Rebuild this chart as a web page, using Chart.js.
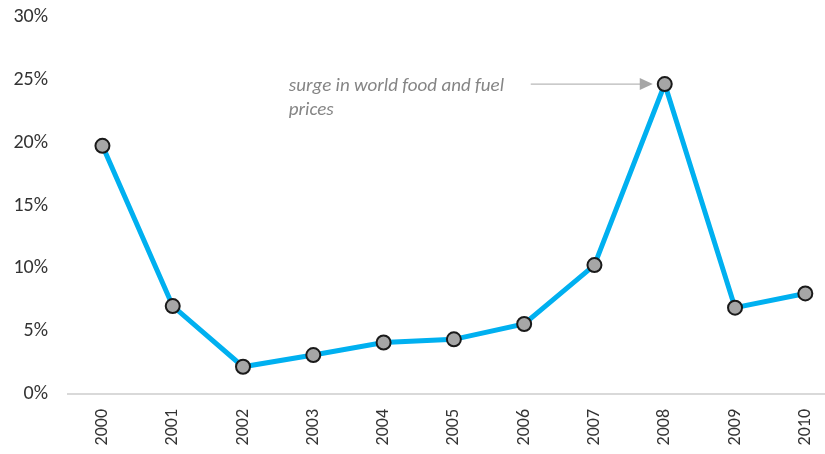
<!DOCTYPE html>
<html>
<head>
<meta charset="utf-8">
<script src="https://cdn.jsdelivr.net/npm/chart.js@4"></script>
<style>
  body { margin: 0; background: #fff; }
  #wrap { width: 825px; height: 454px; position: relative; }
</style>
</head>
<body>
<div id="wrap"><canvas id="myChart"></canvas></div>
<script>
const years = ['2000','2001','2002','2003','2004','2005','2006','2007','2008','2009','2010']
const inflation = [19.75, 7.0, 2.17, 3.1, 4.1, 4.35, 5.57, 10.26, 24.66, 6.87, 8.0]
const yTicks = [0, 5, 10, 15, 20, 25, 30]
const noteLines = ['surge in world food and fuel', 'prices']
const noteIndex = 8

const ctx = document.getElementById('myChart').getContext('2d')
const fontFamily = 'Carlito, Lato, sans-serif'

// arrow + italic note pointing at the 2008 peak
const notePlugin = {
    id: 'note',
    afterDatasetsDraw(chart) {
        const x = chart.scales.x, y = chart.scales.y
        const px = x.getPixelForValue(noteIndex)
        const py = y.getPixelForValue(inflation[noteIndex])
        const c = chart.ctx
        c.save()
        // arrow
        const tipX = px - 12, startX = px - 134
        c.strokeStyle = '#a6a6a6'
        c.fillStyle = '#a6a6a6'
        c.lineWidth = 1
        c.beginPath()
        c.moveTo(startX, py)
        c.lineTo(tipX - 10, py)
        c.stroke()
        c.beginPath()
        c.moveTo(tipX, py)
        c.lineTo(tipX - 13, py - 6)
        c.lineTo(tipX - 13, py + 6)
        c.closePath()
        c.fill()
        // text
        c.fillStyle = '#858585'
        c.font = 'italic 19px ' + fontFamily
        c.textBaseline = 'middle'
        c.textAlign = 'left'
        noteLines.forEach((t, i) => c.fillText(t, px - 376, py + 2 + i * 24))
        c.restore()
    }
}

const data = {
    datasets: [
        {
            data: inflation.map((v, i) => ({ x: i, y: v })),
            borderColor: '#00b0f0',
            borderWidth: 5,
            pointRadius: 7,
            pointHoverRadius: 7,
            pointBackgroundColor: '#a6a6a6',
            pointBorderColor: '#1a1a1a',
            pointBorderWidth: 2,
            tension: 0,
        },
    ],
}

const config = {
    type: 'line',
    data: data,
    plugins: [notePlugin],
    options: {
        responsive: true,
        maintainAspectRatio: false,
        animation: false,
        layout: { padding: { top: 17, right: 0, left: 0, bottom: 0 }, autoPadding: false },
        plugins: {
            legend: { display: false },
            tooltip: { enabled: false },
        },
        scales: {
            x: {
                type: 'linear',
                min: -0.49,
                max: 10.28,
                afterBuildTicks: (scale) => { scale.ticks = years.map((_, i) => ({ value: i })) },
                afterFit: (scale) => {
                    scale.height = 60
                    scale.paddingLeft = 0
                    scale.paddingRight = 0
                },
                grid: { display: false, drawTicks: false },
                border: { display: true, color: '#d9d9d9', width: 2 },
                ticks: {
                    callback: (v) => years[v],
                    minRotation: 90,
                    maxRotation: 90,
                    padding: 15,
                    color: '#333333',
                    font: { family: fontFamily, size: 18 },
                },
            },
            y: {
                min: 0,
                max: 30,
                afterBuildTicks: (scale) => { scale.ticks = yTicks.map(v => ({ value: v })) },
                afterFit: (scale) => {
                    scale.width = 68
                    scale.paddingTop = 0
                    scale.paddingBottom = 0
                },
                grid: { display: false, drawTicks: false },
                border: { display: false },
                ticks: {
                    callback: (v) => v + '%',
                    padding: 20,
                    color: '#333333',
                    font: { family: fontFamily, size: 20 },
                },
            },
        },
    },
}
const myChart = new Chart(ctx, config)
</script>
</body>
</html>
